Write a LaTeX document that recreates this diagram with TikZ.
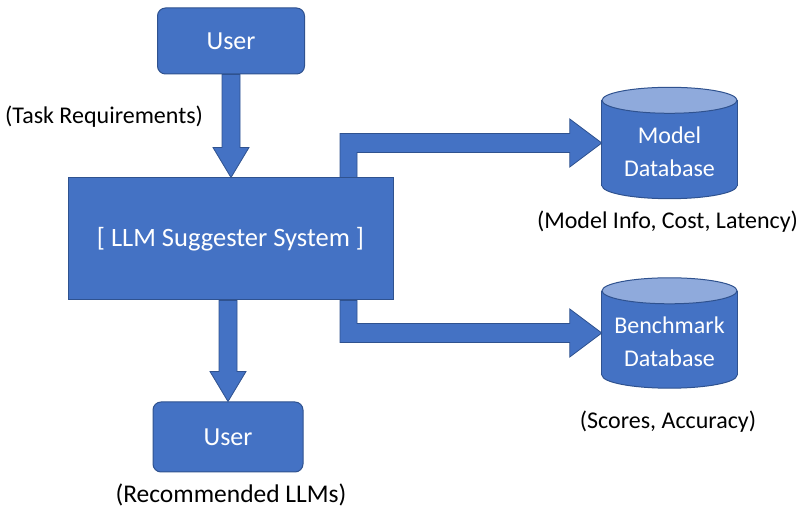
\documentclass[tikz,border=0pt]{standalone}
\usepackage{fontspec}
\setmainfont{Carlito}
\usetikzlibrary{calc}
\definecolor{boxblue}{HTML}{4472C4}
\definecolor{boxedge}{HTML}{2F528F}
\definecolor{toplight}{HTML}{8FAADC}
\newcommand\drawcyl[1]{%
  \fill[boxblue, draw=boxedge, line width=1pt] ($(#1.south)+(0,13)$) ellipse [x radius=67.5, y radius=13];
  \fill[boxblue] ($(#1.south west)+(0,13)$) rectangle ($(#1.north east)+(0,-13)$);
  \draw[boxedge, line width=1pt] ($(#1.south west)+(0,13)$) -- ($(#1.north west)+(0,-13)$)
       ($(#1.south east)+(0,13)$) -- ($(#1.north east)+(0,-13)$);
  \fill[toplight, draw=boxedge, line width=1pt] ($(#1.north)+(0,-13)$) ellipse [x radius=67.5, y radius=13];
}
\begin{document}
\begin{tikzpicture}[x=1pt,y=1pt,
  box/.style={draw=boxedge, line width=1pt, fill=boxblue, text=white},
  userbox/.style={box, rounded corners=8pt, minimum width=147pt, minimum height=66pt, font=\fontsize{26}{30}\selectfont},
  sysbox/.style={box, minimum width=325pt, minimum height=122pt, font=\fontsize{26.5}{30}\selectfont},
  dbshape/.style={minimum width=135pt, minimum height=111pt, inner sep=0pt},
  dbtext/.style={text=white, align=center, inner sep=0pt, font=\fontsize{24}{33}\selectfont},
  blockarrow/.style={draw=boxedge, line width=0.8pt, fill=boxblue, line join=miter},
  lbl/.style={inner sep=0pt, text=black, font=\fontsize{24}{28}\selectfont}
]
\useasboundingbox (0,0) rectangle (803,511);

% boxes
\node[userbox] (user1) at (231,470) {User};
\node[sysbox] (sys) at (230.5,272) {[ LLM Suggester System ]};
\node[userbox, minimum width=150pt, minimum height=70pt] (user2) at (228,74) {User};

% databases
\node[dbshape] (model) at (669.5,368) {};
\drawcyl{model}
\node[dbtext] (modeltxt) at ([yshift=-9pt]model.center) {Model\\Database};

\node[dbshape, minimum height=110pt] (bench) at (669.5,178) {};
\drawcyl{bench}
\node[dbtext] (benchtxt) at ([yshift=-9pt]bench.center) {Benchmark\\Database};

% arrows
\coordinate (tA) at (user1.south |- sys.north);
\filldraw[blockarrow] ($(user1.south)+(-9,0)$) -- ($(tA)+(-9,30)$) -- ++(-9,0) -- (tA)
  -- ++(18,30) -- ++(-9,0) -- ($(user1.south)+(9,0)$) -- cycle;

\coordinate (bA) at (user2.north |- sys.south);
\filldraw[blockarrow] ($(bA)+(-9,0)$) -- ($(user2.north)+(-9,30)$) -- ++(-9,0) -- (user2.north)
  -- ++(18,30) -- ++(-9,0) -- ($(bA)+(9,0)$) -- cycle;

\coordinate (mA) at ([xshift=118pt]sys.north);
\filldraw[blockarrow] ($(mA)+(-8.5,0)$) |- ($(model.west)+(-32,9.5)$) -- ++(0,14.5) -- (model.west)
  -- ++(-32,-24) -- ++(0,14.5) -| ($(mA)+(8.5,0)$) -- cycle;

\coordinate (mB) at ([xshift=118pt]sys.south);
\filldraw[blockarrow] ($(mB)+(-8.5,0)$) |- ($(bench.west)+(-32,-9.5)$) -- ++(0,-14.5) -- (bench.west)
  -- ++(-32,24) -- ++(0,-14.5) -| ($(mB)+(8.5,0)$) -- cycle;

% labels
\node[lbl, anchor=west] (tasklbl) at (5,394) {(Task Requirements)};
\node[lbl] (modellbl) at (667.5,289) {(Model Info, Cost, Latency)};
\node[lbl] (benchlbl) at (668,89) {(Scores, Accuracy)};
\node[lbl, font=\fontsize{25.5}{28}\selectfont] (reclbl) at (231,16) {(Recommended LLMs)};
\end{tikzpicture}
\end{document}
